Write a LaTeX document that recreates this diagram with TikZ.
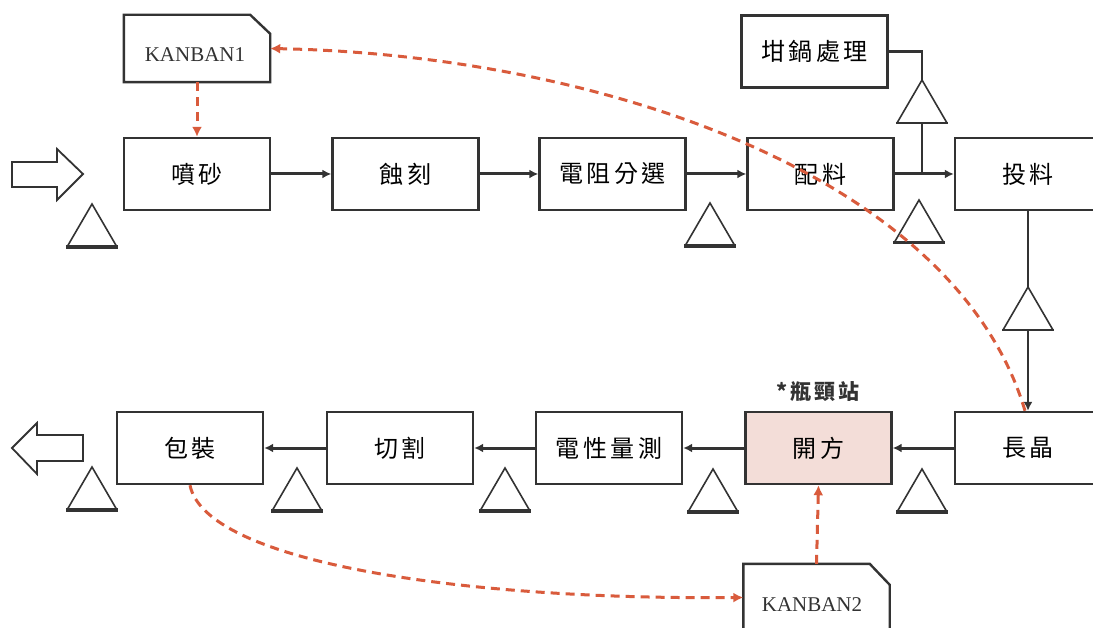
\documentclass[tikz,border=0pt]{standalone}
\usepackage{fontspec}
\newfontfamily\cjk[LetterSpace=15]{Noto Sans CJK TC}
\newfontfamily\kbfont{Liberation Serif}
\usetikzlibrary{arrows.meta}
\definecolor{ink}{HTML}{333333}
\definecolor{flow}{HTML}{D95B3C}
\definecolor{hot}{HTML}{F3DDD8}
\tikzset{
  stepbox/.style={draw=ink, line width=2.4pt, minimum width=146pt, minimum height=72pt,
    inner sep=0pt, font=\cjk\fontsize{24}{24}\selectfont},
  kanbox/.style={minimum width=146pt, minimum height=67pt, inner sep=0pt},
  kantext/.style={font=\kbfont\fontsize{21}{21}\selectfont, text=ink},
  link/.style={draw=ink, line width=3pt, -{Latex[length=9pt,width=9pt]}},
  plain/.style={draw=ink, line width=2.4pt},
  pull/.style={draw=flow, line width=3pt, dash pattern=on 9pt off 6pt,
    -{Latex[length=10pt,width=10pt]}},
  tri/.style={draw=ink, line width=1.6pt, line join=miter},
  bigarrow/.style={draw=ink, line width=1.8pt, fill=white}
}
% inventory triangle: name, centre x, base y, base line width
\newcommand{\stock}[4]{%
  \coordinate (#1-top) at (#2,#3-43);
  \coordinate (#1-bot) at (#2,#3);
  \draw[tri] (#2-25,#3) -- (#1-top) -- (#2+25,#3);
  \draw[line width=#4, draw=ink] (#2-26,#3) -- (#2+26,#3);
}
\begin{document}
\begin{tikzpicture}[x=1pt,y=-1pt]
\clip (0,0) rectangle (1093,628);
\fill[white] (0,0) rectangle (1093,628);

% upper row
\node[stepbox] (pensha)  at (197,174)   {噴砂};
\node[stepbox] (shike)   at (405.5,174) {蝕刻};
\node[stepbox] (dianzu)  at (612.5,174) {電阻分選};
\node[stepbox] (peiliao) at (820.5,174) {配料};
\node[stepbox] (touliao) at (1028,174)  {投料};
\node[stepbox] (ganguo)  at (814.5,51.5) {坩鍋處理};

% lower row
\node[stepbox] (zhangjing) at (1028,448)  {長晶};
\node[stepbox, fill=hot] (kaifang) at (818.5,448) {開方};
\node[stepbox] (dianxing)  at (609,448)   {電性量測};
\node[stepbox] (qiege)     at (400,448)   {切割};
\node[stepbox] (baozhuang) at (190,448)   {包裝};
\node[font=\cjk\fontsize{21}{21}\selectfont\bfseries, text=ink] (neck) at (818,392) {*瓶頸站};

% kanban cards
\node[kanbox] (kan1) at (197,48.5) {};
\draw[plain] (kan1.south west) -- (kan1.north west) -- ([xshift=-20pt]kan1.north east)
  -- ([yshift=-19pt]kan1.north east) -- (kan1.south east) -- cycle;
\node[kantext] (kan1t) at (195,55) {KANBAN1};
\node[kanbox] (kan2) at (816.5,597.5) {};
\draw[plain] (kan2.south west) -- (kan2.north west) -- ([xshift=-20pt]kan2.north east)
  -- ([yshift=-21pt]kan2.north east) -- (kan2.south east) -- cycle;
\node[kantext] (kan2t) at (812,605) {KANBAN2};

% inventory points
\stock{t1}{92}{247}{3.5pt}
\stock{t2}{710}{246}{3.5pt}
\stock{t3}{919}{243}{3pt}
\stock{t4}{922}{123}{2.2pt}
\stock{t5}{1028}{330}{2.2pt}
\stock{b1}{92}{510}{3.5pt}
\stock{b2}{297}{511}{3.5pt}
\stock{b3}{505}{511}{3.5pt}
\stock{b4}{713}{512}{3.5pt}
\stock{b5}{922}{512}{3.5pt}

% material flow
\draw[link] (pensha.east) -- (shike.west);
\draw[link] (shike.east) -- (dianzu.west);
\draw[link] (dianzu.east) -- (peiliao.west);
\draw[link] (peiliao.east) -- (touliao.west);
\draw[plain] (ganguo.east) -| (t4-top);
\draw[plain] (t4-bot) -- (t4-bot |- peiliao.east);
\draw[plain] (touliao.south) -- (t5-top);
\draw[link, line width=2.4pt] (t5-bot) -- (zhangjing.north);
\draw[link] (zhangjing.west) -- (kaifang.east);
\draw[link] (kaifang.west) -- (dianxing.east);
\draw[link] (dianxing.west) -- (qiege.east);
\draw[link] (qiege.west) -- (baozhuang.east);

% entry and exit
\draw[bigarrow] (12,162) -- (57,162) -- (57,149) -- (83,174) -- (57,200) -- (57,187) -- (12,187) -- cycle;
\draw[bigarrow] (83,435) -- (37,435) -- (37,423) -- (12,448) -- (37,474) -- (37,461) -- (83,461) -- cycle;

% kanban signals
\draw[pull] (kan1.south) -- (pensha.north);
\draw[pull] ([xshift=-3pt]zhangjing.north) .. controls (955,175) and (600,55) .. (kan1.east);
\draw[pull] (baozhuang.south) .. controls (205,560) and (450,600) .. (kan2.west);
\draw[pull] (kan2.north) -- (kaifang.south);
\end{tikzpicture}
\end{document}
